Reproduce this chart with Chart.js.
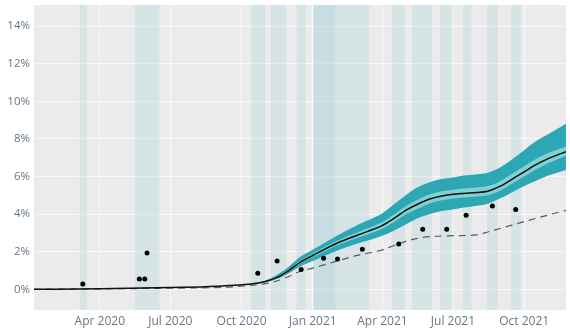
<!DOCTYPE html>
<html>
<head>
<meta charset="utf-8">
<script src="https://cdn.jsdelivr.net/npm/chart.js@4"></script>
<style>
  body { margin: 0; background: #fff; }
  #wrap { width: 570px; height: 330px; position: relative; }
</style>
</head>
<body>
<div id="wrap"><canvas id="myChart"></canvas></div>
<script>
// dates of the modelled series
var seriesDates = ['2020-01-07', '2020-04-01', '2020-07-01', '2020-08-15', '2020-09-15', '2020-10-15', '2020-11-01', '2020-11-15',
  '2020-12-01', '2020-12-15', '2021-01-01', '2021-02-01', '2021-03-01', '2021-04-01', '2021-04-15', '2021-05-01', '2021-05-15',
  '2021-06-01', '2021-06-15', '2021-07-01', '2021-07-15', '2021-08-01', '2021-08-15', '2021-09-01', '2021-09-15', '2021-10-01',
  '2021-10-15', '2021-11-01', '2021-11-24'];
var median  = [0, 0.03, 0.1, 0.13, 0.2, 0.3, 0.42, 0.62, 1.0, 1.42, 1.8, 2.45, 2.9, 3.4, 3.75, 4.2, 4.5, 4.8, 4.95, 5.05, 5.1, 5.15, 5.22, 5.5, 5.85, 6.25, 6.6, 6.95, 7.32];
var outerHi = [0, 0.03, 0.1, 0.13, 0.2, 0.31, 0.47, 0.75, 1.2, 1.7, 2.1, 2.85, 3.45, 4.05, 4.5, 5.0, 5.4, 5.7, 5.85, 5.95, 6.05, 6.12, 6.2, 6.5, 6.9, 7.4, 7.85, 8.25, 8.8];
var outerLo = [0, 0.03, 0.1, 0.13, 0.2, 0.29, 0.38, 0.53, 0.85, 1.2, 1.5, 2.05, 2.45, 2.85, 3.1, 3.45, 3.75, 4.0, 4.15, 4.25, 4.35, 4.45, 4.55, 4.85, 5.15, 5.5, 5.75, 6.05, 6.35];
var innerHi = [0, 0.03, 0.1, 0.13, 0.2, 0.3, 0.43, 0.65, 1.05, 1.5, 1.9, 2.57, 3.05, 3.58, 3.95, 4.42, 4.74, 5.05, 5.2, 5.3, 5.36, 5.42, 5.49, 5.78, 6.13, 6.55, 6.9, 7.25, 7.6];
var innerLo = [0, 0.03, 0.1, 0.13, 0.2, 0.3, 0.41, 0.59, 0.95, 1.34, 1.7, 2.33, 2.75, 3.22, 3.55, 3.98, 4.26, 4.57, 4.72, 4.83, 4.88, 4.93, 5.0, 5.27, 5.62, 6.0, 6.35, 6.7, 7.1];

// dashed reference line
var dashDates = ['2020-01-07', '2020-07-01', '2020-09-15', '2020-10-15', '2020-11-01', '2020-11-15', '2020-12-01', '2020-12-15',
  '2021-01-01', '2021-02-01', '2021-03-01', '2021-04-01', '2021-04-15', '2021-05-01', '2021-05-15', '2021-06-01', '2021-07-01',
  '2021-08-01', '2021-08-15', '2021-09-01', '2021-10-01', '2021-11-01', '2021-11-24'];
var dashed = [0, 0.06, 0.12, 0.22, 0.3, 0.44, 0.68, 0.95, 1.13, 1.5, 1.82, 2.1, 2.32, 2.55, 2.7, 2.8, 2.85, 2.9, 3.05, 3.25, 3.6, 3.95, 4.2];

// observed points
var dotDates = ['2020-03-10', '2020-05-22', '2020-05-29', '2020-06-01', '2020-10-22', '2020-11-16', '2020-12-17', '2021-01-15',
  '2021-02-02', '2021-03-06', '2021-04-22', '2021-05-23', '2021-06-23', '2021-07-18', '2021-08-21', '2021-09-20'];
var dotValues = [0.28, 0.55, 0.55, 1.93, 0.85, 1.5, 1.06, 1.65, 1.61, 2.13, 2.41, 3.19, 3.19, 3.94, 4.43, 4.25];

// shaded periods
var bandStart = ['2020-03-06', '2020-05-16', '2020-10-13', '2020-11-08', '2020-12-11', '2021-01-02', '2021-01-02', '2021-04-13',
  '2021-05-09', '2021-06-14', '2021-07-14', '2021-08-14', '2021-09-14'];
var bandEnd = ['2020-03-15', '2020-06-17', '2020-11-01', '2020-11-28', '2020-12-23', '2021-03-15', '2021-01-30', '2021-04-30',
  '2021-06-04', '2021-06-30', '2021-07-25', '2021-08-28', '2021-09-27'];

var tickDates = ['2020-04-01', '2020-07-01', '2020-10-01', '2021-01-01', '2021-04-01', '2021-07-01', '2021-10-01'];
var tickLabels = ['Apr 2020', 'Jul 2020', 'Oct 2020', 'Jan 2021', 'Apr 2021', 'Jul 2021', 'Oct 2021'];
var yTicks = [0, 2, 4, 6, 8, 10, 12, 14];

var xMin = '2020-01-07', xMax = '2021-11-24';

function dayOf(s) {
  return (Date.parse(s) - Date.parse('2020-01-01')) / 864e5;
}
function points(dates, values) {
  return dates.map(function(d, i) { return { x: dayOf(d), y: values[i] }; });
}

var bgPlugin = {
  id: 'bg',
  beforeDraw: function(chart) {
    var a = chart.chartArea, ctx = chart.ctx;
    ctx.save();
    ctx.fillStyle = '#ebebeb';
    ctx.fillRect(a.left, a.top, a.right - a.left, a.bottom - a.top);
    ctx.restore();
  },
  beforeDatasetsDraw: function(chart) {
    var a = chart.chartArea, ctx = chart.ctx, xs = chart.scales.x;
    ctx.save();
    ctx.fillStyle = 'rgba(165, 212, 218, 0.3)';
    bandStart.forEach(function(s, i) {
      var x1 = xs.getPixelForValue(dayOf(s));
      var x2 = xs.getPixelForValue(dayOf(bandEnd[i]));
      ctx.fillRect(x1, a.top, x2 - x1, a.bottom - a.top);
    });
    ctx.restore();
  }
};

var lineBase = { pointRadius: 0, borderWidth: 0, cubicInterpolationMode: 'monotone' };

new Chart(document.getElementById('myChart'), {
  type: 'line',
  data: {
    datasets: [
      Object.assign({ data: points(seriesDates, outerLo), fill: false, order: 5 }, lineBase),
      Object.assign({ data: points(seriesDates, outerHi), fill: '-1', backgroundColor: '#2da7b3', order: 5 }, lineBase),
      Object.assign({ data: points(seriesDates, innerLo), fill: false, order: 4 }, lineBase),
      Object.assign({ data: points(seriesDates, innerHi), fill: '-1', backgroundColor: '#80d1d3', order: 4 }, lineBase),
      { data: points(dashDates, dashed), borderColor: '#5a5a5a', borderWidth: 1.2, borderDash: [7, 5],
        pointRadius: 0, fill: false, cubicInterpolationMode: 'monotone', order: 3 },
      { data: points(seriesDates, median), borderColor: '#111', borderWidth: 1.5,
        pointRadius: 0, fill: false, cubicInterpolationMode: 'monotone', order: 2 },
      { data: points(dotDates, dotValues), showLine: false, pointRadius: 2.5, pointBackgroundColor: '#000',
        pointBorderWidth: 0, order: 1 }
    ]
  },
  options: {
    responsive: true,
    maintainAspectRatio: false,
    animation: false,
    layout: { padding: { top: 5, right: 0, left: 0, bottom: 0 } },
    plugins: { legend: { display: false }, tooltip: { enabled: false } },
    scales: {
      x: {
        type: 'linear',
        min: dayOf(xMin),
        max: dayOf(xMax),
        afterBuildTicks: function(s) { s.ticks = tickDates.map(function(d) { return { value: dayOf(d) }; }); },
        afterFit: function(s) { s.height = 20; s.paddingLeft = 0; s.paddingRight = 0; },
        border: { display: false },
        grid: { color: '#f9f9f9', lineWidth: 1, drawTicks: false },
        ticks: {
          color: '#66768a', font: { family: 'Open Sans', size: 12 }, padding: 4, maxRotation: 0, autoSkip: false,
          callback: function(v, i) { return tickLabels[i]; }
        }
      },
      y: {
        min: -1.1,
        max: 15.12,
        afterBuildTicks: function(s) { s.ticks = yTicks.map(function(v) { return { value: v }; }); },
        afterFit: function(s) { s.width = 34; s.paddingTop = 0; s.paddingBottom = 0; },
        border: { display: false },
        grid: { color: '#f9f9f9', lineWidth: 1, drawTicks: false },
        ticks: {
          color: '#66768a', font: { family: 'Open Sans', size: 11.5 }, padding: 4,
          callback: function(v) { return v + '%'; }
        }
      }
    }
  },
  plugins: [bgPlugin]
});
</script>
</body>
</html>
